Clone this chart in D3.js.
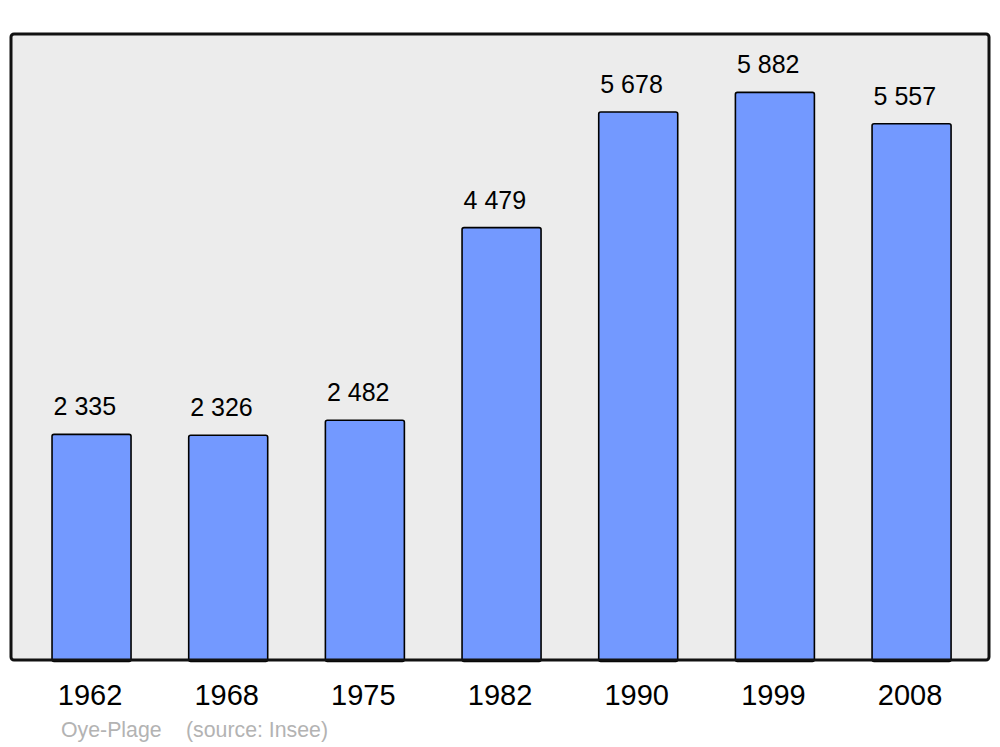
<!DOCTYPE html>
<html>
<head>
<meta charset="utf-8">
<script src="https://cdn.jsdelivr.net/npm/d3@7"></script>
<style>
  body { margin: 0; background: #fff; }
  text { font-family: "Liberation Sans", Arial, sans-serif; }
</style>
</head>
<body>
<svg id="chart" width="1000" height="747"></svg>
<script>
// population by census year
const years = ["1962", "1968", "1975", "1982", "1990", "1999", "2008"];
const population = [2335, 2326, 2482, 4479, 5678, 5882, 5557];
const place = "Oye-Plage";
const source = "(source: Insee)";

let frame = { left: 11, top: 34, right: 989, bottom: 660 };

var svg = d3.select("#chart");

// space between thousands, french style
var fmt = function(v) {
  return d3.format(",")(v).replace(/,/g, " ");
};

var xScale = d3.scaleBand()
  .domain(years)
  .range([24.7, 978.4])
  .paddingInner(0.422)
  .paddingOuter(0.2);

var yScale = d3.scaleLinear()
  .domain([0, 6500])
  .range([659.5, 32.8]);

// background panel
svg.append("rect")
  .attr("x", frame.left)
  .attr("y", frame.top)
  .attr("width", frame.right - frame.left)
  .attr("height", frame.bottom - frame.top)
  .attr("rx", 3)
  .attr("fill", "#ececec")
  .attr("stroke", "none");

var rows = years.map((y, i) => ({ year: y, value: population[i] }));

svg.selectAll("rect.bar")
  .data(rows)
  .enter()
  .append("rect")
  .attr("class", "bar")
  .attr("x", d => xScale(d.year))
  .attr("y", d => yScale(d.value))
  .attr("width", xScale.bandwidth())
  .attr("height", d => yScale(0) - yScale(d.value) + 2)
  .attr("rx", 2)
  .attr("fill", "#7399ff")
  .attr("stroke", "#000")
  .attr("stroke-width", 1.6);

// frame on top so bar bottoms sit under it
svg.append("rect")
  .attr("x", frame.left)
  .attr("y", frame.top)
  .attr("width", frame.right - frame.left)
  .attr("height", frame.bottom - frame.top)
  .attr("rx", 3)
  .attr("fill", "none")
  .attr("stroke", "#111")
  .attr("stroke-width", 3);

svg.selectAll("text.value")
  .data(rows)
  .enter()
  .append("text")
  .attr("class", "value")
  .attr("x", d => xScale(d.year) + 1.5)
  .attr("y", d => yScale(d.value) - 19)
  .style("font-size", "25px")
  .style("fill", "#000")
  .text(d => fmt(d.value));

svg.selectAll("text.year")
  .data(rows)
  .enter()
  .append("text")
  .attr("class", "year")
  .attr("x", d => xScale(d.year) + xScale.bandwidth() / 2 - 1.5)
  .attr("y", 705)
  .attr("text-anchor", "middle")
  .style("font-size", "29px")
  .style("fill", "#000")
  .text(d => d.year);

svg.append("text")
  .attr("x", 61)
  .attr("y", 737)
  .style("font-size", "21.3px")
  .style("fill", "#b3b3b3")
  .text(place);

svg.append("text")
  .attr("x", 186)
  .attr("y", 737)
  .style("font-size", "21.3px")
  .style("fill", "#b3b3b3")
  .text(source);
</script>
</body>
</html>
